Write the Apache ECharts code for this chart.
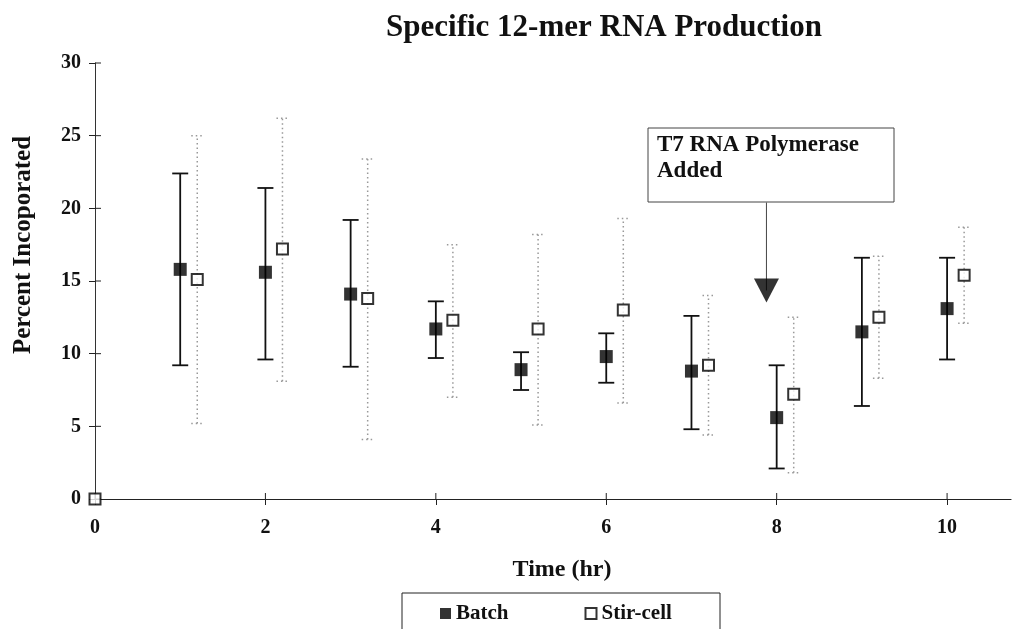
<!DOCTYPE html>
<html>
<head>
<meta charset="utf-8">
<script src="https://cdn.jsdelivr.net/npm/echarts@6/dist/echarts.min.js"></script>
<style>
  html, body { margin: 0; padding: 0; background: #fff; }
  #chart { width: 1019px; height: 629px; }
</style>
</head>
<body>
<div id="chart"></div>
<script>
// values
const times = [1, 2, 3, 4, 5, 6, 7, 8, 9, 10];
const batchMean = [15.8, 15.6, 14.1, 11.7, 8.9, 9.8, 8.8, 5.6, 11.5, 13.1];
const batchLow = [9.2, 9.6, 9.1, 9.7, 7.5, 8.0, 4.8, 2.1, 6.4, 9.6];
const batchHigh = [22.4, 21.4, 19.2, 13.6, 10.1, 11.4, 12.6, 9.2, 16.6, 16.6];

const stirTimes = [0, 1.2, 2.2, 3.2, 4.2, 5.2, 6.2, 7.2, 8.2, 9.2, 10.2];
const stirMean = [0, 15.1, 17.2, 13.8, 12.3, 11.7, 13.0, 9.2, 7.2, 12.5, 15.4];
const stirLow = [null, 5.2, 8.1, 4.1, 7.0, 5.1, 6.6, 4.4, 1.8, 8.3, 12.1];
const stirHigh = [null, 25.0, 26.2, 23.4, 17.5, 18.2, 19.3, 14.0, 12.5, 16.7, 18.7];

const xTicks = [0, 2, 4, 6, 8, 10];
const yTicks = [0, 5, 10, 15, 20, 25, 30];

// arrow pointing at the polymerase addition
const arrowX = 7.88;
const arrowTop = 20.4;
const arrowHead = 14.35;

const serif = "'Liberation Serif', 'Times New Roman', serif";

function errorBars(color, dotted, cap) {
  return function (params, api) {
    const x = api.value(0);
    const lo = api.value(1);
    const hi = api.value(2);
    if (lo == null || hi == null || isNaN(lo)) return null;
    const pLo = api.coord([x, lo]);
    const pHi = api.coord([x, hi]);
    const style = { stroke: color, lineWidth: dotted ? 1.5 : 1.8, lineDash: dotted ? [1.5, 3] : null };
    return {
      type: 'group',
      children: [
        { type: 'line', shape: { x1: pLo[0], y1: pLo[1], x2: pHi[0], y2: pHi[1] }, style: style },
        { type: 'line', shape: { x1: pLo[0] - cap, y1: pLo[1], x2: pLo[0] + cap, y2: pLo[1] }, style: style },
        { type: 'line', shape: { x1: pHi[0] - cap, y1: pHi[1], x2: pHi[0] + cap, y2: pHi[1] }, style: style }
      ]
    };
  };
}

// inner halves of the tick marks (the axes draw the outer halves)
function innerTick(dx, dy) {
  return function (params, api) {
    const p = api.coord([api.value(0), api.value(1)]);
    return {
      type: 'line',
      shape: { x1: p[0], y1: p[1], x2: p[0] + dx, y2: p[1] + dy },
      style: { stroke: '#222', lineWidth: 1 }
    };
  };
}

const chart = echarts.init(document.getElementById('chart'));

const axisLabelStyle = { fontFamily: serif, fontWeight: 'bold', fontSize: 20, color: '#111' };

chart.setOption({
  animation: false,
  title: {
    text: 'Specific 12-mer RNA Production',
    left: 599,
    textAlign: 'center',
    top: 7,
    textStyle: { fontFamily: serif, fontWeight: 'bold', fontSize: 31, color: '#111' }
  },
  grid: { left: 95, right: 8, top: 63, bottom: 130 },
  xAxis: {
    type: 'value',
    min: 0,
    max: 10.75,
    interval: 2,
    splitLine: { show: false },
    axisLine: { show: true, lineStyle: { color: '#222', width: 1.2 } },
    axisTick: { show: true, length: 6, customValues: xTicks, lineStyle: { color: '#222' } },
    axisLabel: { margin: 19, customValues: xTicks, ...axisLabelStyle },
    name: 'Time (hr)',
    nameLocation: 'middle',
    nameGap: 59,
    nameTextStyle: { fontFamily: serif, fontWeight: 'bold', fontSize: 24, color: '#111', padding: [0, 0, 0, 18] }
  },
  yAxis: {
    type: 'value',
    min: 0,
    max: 30,
    interval: 5,
    splitLine: { show: false },
    axisLine: { show: true, lineStyle: { color: '#333', width: 1 } },
    axisTick: { show: true, length: 6, customValues: yTicks, lineStyle: { color: '#222' } },
    axisLabel: { margin: 14, customValues: yTicks, ...axisLabelStyle }
  },
  legend: {
    data: ['Batch', 'Stir-cell'],
    left: 435,
    top: 598,
    itemGap: 76,
    itemWidth: 11,
    itemHeight: 11,
    icon: 'rect',
    textStyle: { fontFamily: serif, fontWeight: 'bold', fontSize: 21, color: '#111' }
  },
  graphic: [
    {
      type: 'text',
      x: 24,
      y: 245,
      rotation: Math.PI / 2,
      style: {
        text: 'Percent Incoporated',
        fontFamily: serif,
        fontWeight: 'bold',
        fontSize: 25,
        fill: '#111',
        align: 'center',
        verticalAlign: 'middle'
      },
      silent: true
    },
    {
      type: 'rect',
      shape: { x: 402, y: 593, width: 318, height: 60 },
      style: { fill: 'none', stroke: '#222', lineWidth: 1 },
      silent: true
    },
    {
      type: 'rect',
      shape: { x: 648, y: 128, width: 246, height: 74 },
      style: { fill: '#fff', stroke: '#444', lineWidth: 1 },
      silent: true
    },
    {
      type: 'text',
      left: 657,
      top: 132,
      style: {
        text: 'T7 RNA Polymerase\nAdded',
        fontFamily: serif,
        fontWeight: 'bold',
        fontSize: 23,
        lineHeight: 26,
        fill: '#111'
      },
      silent: true
    }
  ],
  series: [
    {
      name: 'x inner ticks',
      type: 'custom',
      renderItem: innerTick(0, -6),
      data: xTicks.map(v => [v, 0]),
      silent: true,
      z: 1
    },
    {
      name: 'y inner ticks',
      type: 'custom',
      renderItem: innerTick(6, 0),
      data: yTicks.map(v => [0, v]),
      silent: true,
      z: 1
    },
    {
      name: 'Stir-cell error',
      type: 'custom',
      renderItem: errorBars('#999', true, 6),
      data: stirTimes.map((t, i) => [t, stirLow[i], stirHigh[i]]),
      z: 1
    },
    {
      name: 'Batch error',
      type: 'custom',
      renderItem: errorBars('#111', false, 8),
      data: times.map((t, i) => [t, batchLow[i], batchHigh[i]]),
      z: 2
    },
    {
      name: 'Batch',
      type: 'scatter',
      symbol: 'rect',
      symbolSize: 13,
      itemStyle: { color: '#000' },
      data: times.map((t, i) => [t, batchMean[i]]),
      z: 5
    },
    {
      name: 'Stir-cell',
      type: 'scatter',
      symbol: 'rect',
      symbolSize: 11,
      itemStyle: { color: '#fff', borderColor: '#000', borderWidth: 2 },
      data: stirTimes.map((t, i) => [t, stirMean[i]]),
      z: 5
    },
    {
      name: 'arrow',
      type: 'line',
      symbol: 'none',
      lineStyle: { color: '#444', width: 1 },
      data: [[arrowX, arrowTop], [arrowX, arrowHead]],
      z: 3
    },
    {
      name: 'arrowhead',
      type: 'scatter',
      symbol: 'triangle',
      symbolRotate: 180,
      symbolSize: [25, 24],
      itemStyle: { color: '#000' },
      data: [[arrowX, arrowHead]],
      z: 4
    }
  ]
});
</script>
</body>
</html>
